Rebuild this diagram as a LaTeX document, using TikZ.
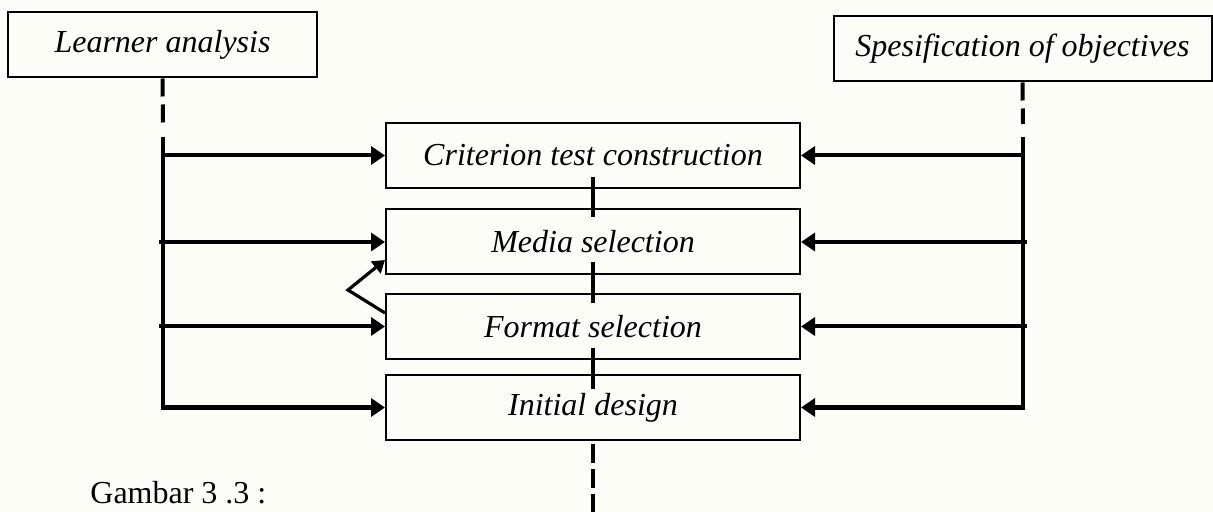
\documentclass[tikz,border=0pt]{standalone}
\usepackage{fontspec}
\setmainfont{Liberation Serif}
\usetikzlibrary{arrows.meta,calc}
\begin{document}
\begin{tikzpicture}[x=0.5pt,y=-0.5pt,
  box/.style={draw,line width=1pt,inner sep=0pt,minimum height=32.5pt,font=\fontsize{16}{19}\selectfont\itshape},
  conn/.style={line width=2pt},
  arr/.style={conn,-{Triangle[length=7pt,width=9pt]}},
  dline/.style={conn,dash pattern=on 9pt off 4pt}]
\useasboundingbox[fill={rgb,255:red,253;green,253;blue,248}] (0,0) rectangle (1213,512);

\node[box,minimum width=154.5pt] (la) at (162.5,45) {Learner analysis};
\node[box,minimum width=189pt] (so) at (1022.5,49) {Spesification of objectives};
\node[box,minimum width=207pt] (ct) at (593,155.5) {Criterion test construction};
\node[box,minimum width=207pt] (ms) at (593,242) {Media selection};
\node[box,minimum width=207pt] (fs) at (593,326.5) {Format selection};
\node[box,minimum width=207pt] (id) at (593,407.5) {Initial design};

\coordinate (ld) at (163,124);
\coordinate (ls) at (163,137);
\coordinate (rd) at (1023,124);
\coordinate (rs) at (1023,137);

% left feed
\draw[dline] (la.south) -- (ld);
\draw[arr] (ls) |- (id.west);
\draw[arr] (ls |- ct.west) -- (ct.west);
\draw[arr] ($(ls |- ms.west)+(-4,0)$) -- (ms.west);
\draw[arr] ($(ls |- fs.west)+(-4,0)$) -- (fs.west);

% right feed
\draw[dline] (so.south) -- (rd);
\draw[arr] (rs) |- (id.east);
\draw[arr] (rs |- ct.east) -- (ct.east);
\draw[arr] ($(rs |- ms.east)+(4,0)$) -- (ms.east);
\draw[arr] ($(rs |- fs.east)+(4,0)$) -- (fs.east);

% centre links
\draw[conn] ([yshift=6pt]ct.south) -- ([yshift=-4.5pt]ms.north);
\draw[conn] ([yshift=6.5pt]ms.south) -- ([yshift=-5pt]fs.north);
\draw[conn] ([yshift=6pt]fs.south) -- ([yshift=-7.5pt]id.north);
\coordinate (bend) at (593,520);
\draw[conn,dash pattern=on 9.5pt off 3pt] ([yshift=-1.5pt]id.south) -- (bend);

% feedback
\coordinate (fb) at (348,290);
\draw[line width=1.6pt,-{Triangle[length=6pt,width=7.5pt]}] ([yshift=6.75pt]fs.west) -- (fb) -- ([yshift=-9pt]ms.west);

\node[anchor=base west,inner sep=0pt,font=\fontsize{16}{19}\selectfont] (cap) at (90,503) {Gambar 3 .3 :};
\end{tikzpicture}
\end{document}
